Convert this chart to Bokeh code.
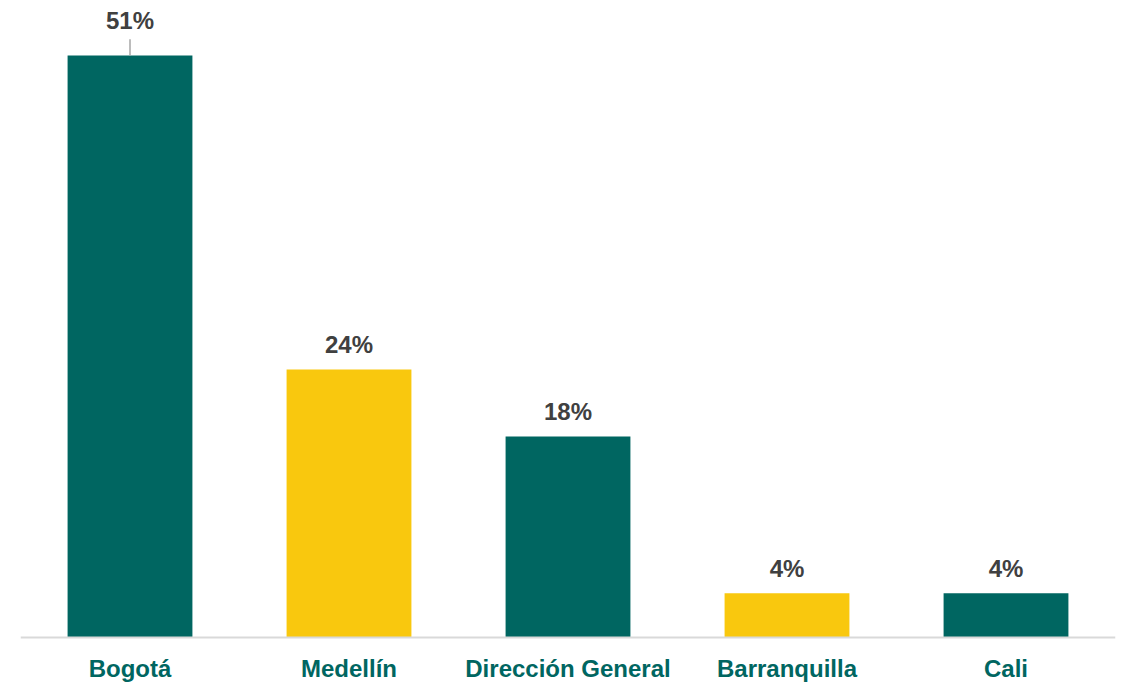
from bokeh.plotting import figure
from bokeh.models import ColumnDataSource, FactorRange, Range1d, Span
from bokeh.core.properties import value
from bokeh.embed import file_html
from bokeh.resources import INLINE

categories = ["Bogotá", "Medellín", "Dirección General", "Barranquilla", "Cali"]
values = [52.1, 24.0, 18.0, 3.95, 3.95]
labels = ["51%", "24%", "18%", "4%", "4%"]
colors = ["#006661", "#F9C80E", "#006661", "#F9C80E", "#006661"]

FONT = "Liberation Sans"
TEAL = "#006661"

p = figure(x_range=FactorRange(*categories, range_padding=0),
           y_range=Range1d(-4.39, 57.03),
           width=1122, height=686, output_backend="svg", toolbar_location=None,
           min_border_left=20, min_border_right=7, min_border_top=0, min_border_bottom=0)
p.outline_line_color = None
p.background_fill_color = "white"
p.border_fill_color = "white"
p.grid.visible = False
p.axis.visible = False

src = ColumnDataSource(dict(cat=categories, val=values, lab=labels, col=colors,
                            zero=[0] * len(categories)))
p.vbar(x="cat", top="val", width=0.57, fill_color="col", line_color=None, source=src)

# baseline (category axis line)
p.add_layout(Span(location=0, dimension="width", line_color="#D9D9D9", line_width=2))

# category labels below the baseline
p.text(x="cat", y="zero", text="cat", source=src, y_offset=31,
       text_align="center", text_baseline="middle", text_font=value(FONT),
       text_font_style="bold", text_font_size="24px", text_color=TEAL)

# value labels (first one lifted with a leader line)
first = ColumnDataSource(dict(cat=categories[:1], val=values[:1], lab=labels[:1],
                              top=[values[0] + 1.45]))
rest = ColumnDataSource(dict(cat=categories[1:], val=values[1:], lab=labels[1:]))
p.segment(x0="cat", y0="val", x1="cat", y1="top", line_color="#A6A6A6",
          line_width=1.5, source=first)
p.text(x="cat", y="val", text="lab", source=first, y_offset=-35,
       text_align="center", text_baseline="middle", text_font=value(FONT),
       text_font_style="bold", text_font_size="24px", text_color="#404040")
p.text(x="cat", y="val", text="lab", source=rest, y_offset=-25,
       text_align="center", text_baseline="middle", text_font=value(FONT),
       text_font_style="bold", text_font_size="24px", text_color="#404040")

open("out.html", "w").write(file_html(p, INLINE))
